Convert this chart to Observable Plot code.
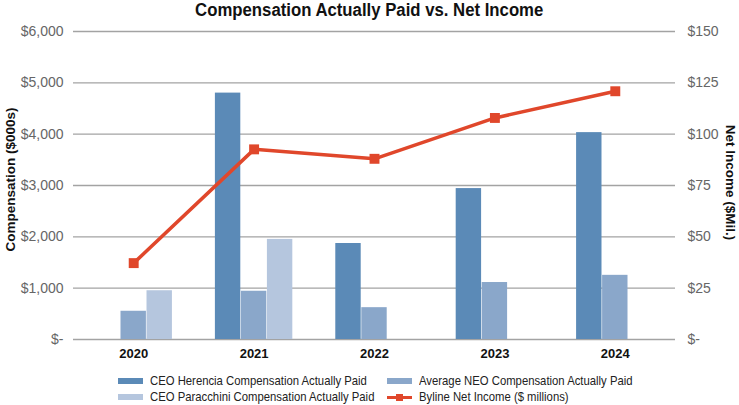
<!DOCTYPE html>
<html><head><meta charset="utf-8">
<script src="https://cdn.jsdelivr.net/npm/d3@7"></script>
<script src="https://cdn.jsdelivr.net/npm/@observablehq/plot@0.6"></script>
<style>
body{margin:0;background:#fff;font-family:"Liberation Sans",Arial,sans-serif;}
#wrap{position:relative;width:739px;height:405px;overflow:hidden;}
#title{position:absolute;left:0;top:0;width:739px;height:22px;line-height:21px;text-align:center;}
#title span{display:inline-block;font-family:"Liberation Sans",Arial,sans-serif;font-weight:bold;font-size:18px;color:#111;transform:scaleX(0.93);transform-origin:center;white-space:nowrap;}
#chart{position:absolute;left:0;top:22px;}
.leg{position:absolute;font-family:"Liberation Sans",Arial,sans-serif;font-size:13px;color:#222;white-space:nowrap;line-height:14px;transform:scaleX(0.87);transform-origin:left center;}
.sw{position:absolute;width:25px;height:6px;}
</style></head><body>
<div id="wrap">
<div id="title"><span>Compensation Actually Paid vs. Net Income</span></div>
<div id="chart"></div>
<div id="legend"></div>
</div>
<script>
const years = [2020, 2021, 2022, 2023, 2024];
const herencia = [null, 4800, 1870, 2940, 4030];
const neo = [550, 940, 620, 1110, 1250];
const paracchini = [950, 1950, null, null, null];
const netIncome = [37.2, 92.6, 88.0, 107.9, 120.9];
const compTicks = [0, 1000, 2000, 3000, 4000, 5000, 6000];
const incomeTicks = [0, 25, 50, 75, 100, 125, 150];
const seriesNames = ["CEO Herencia Compensation Actually Paid", "Average NEO Compensation Actually Paid", "CEO Paracchini Compensation Actually Paid", "Byline Net Income ($ millions)"];
const colors = ["#5b8ab7", "#8aa7ca", "#b5c6de", "#e0472b"];

const ratio = 6000 / 150;
const barW = 0.216;
const seriesVals = [herencia, neo, paracchini];
const bars = [];
seriesVals.forEach((vals, s) => {
  vals.forEach((v, i) => {
    if (v != null) bars.push({year: years[i], s, v, x1: years[i] + (s - 1.5) * barW, x2: years[i] + (s - 0.5) * barW});
  });
});
const line = years.map((y, i) => ({year: y, ni: netIncome[i], yv: netIncome[i] * ratio}));

const fmtComp = d => d === 0 ? "$-" : "$" + d3.format(",")(d);
const fmtInc = d => d === 0 ? "$-" : "$" + d3.format(",")(d / ratio);

const plot = Plot.plot({
  width: 739,
  height: 347,
  marginLeft: 73,
  marginRight: 64,
  marginTop: 9,
  marginBottom: 30,
  style: {fontFamily: "'Liberation Sans', Arial, sans-serif", fontSize: "14px", background: "#fff"},
  x: {domain: [2019.5, 2024.5]},
  y: {domain: [0, 6000]},
  marks: [
    Plot.ruleY(compTicks, {stroke: "#a3a3a3", strokeWidth: 1.3}),
    Plot.rectX(bars, {x1: "x1", x2: "x2", y1: 0, y2: "v", fill: d => colors[d.s], insetLeft: 0.3, insetRight: 0.3}),
    Plot.axisY(compTicks, {anchor: "left", tickSize: 0, tickPadding: 10, tickFormat: fmtComp, label: null, fill: "#666", fontSize: 14}),
    Plot.axisY(compTicks, {anchor: "right", tickSize: 0, tickPadding: 12, tickFormat: fmtInc, label: null, fill: "#666", fontSize: 14}),
    Plot.axisX(years, {anchor: "bottom", tickSize: 0, tickPadding: 9, tickFormat: d => String(d), label: null, fontWeight: "bold", fill: "#111", fontSize: 13}),
    Plot.line(line, {x: "year", y: "yv", stroke: colors[3], strokeWidth: 3.5}),
    Plot.dot(line, {x: "year", y: "yv", symbol: "square", r: 5.6, fill: colors[3], stroke: "none"}),
    Plot.text(["Compensation ($000s)"], {frameAnchor: "left", textAnchor: "middle", rotate: -90, dx: -63, dy: -6, fontWeight: "bold", fontSize: 13.5, fill: "#111"}),
    Plot.text(["Net Income ($Mil.)"], {frameAnchor: "right", textAnchor: "middle", rotate: 90, dx: 55, dy: -3, fontWeight: "bold", fontSize: 13.5, fill: "#111"})
  ]
});
document.getElementById("chart").appendChild(plot);

const legend = document.getElementById("legend");
const legPos = [[118, 381], [387, 381], [118, 397], [387, 397]];
seriesNames.forEach((name, i) => {
  const [x, y] = legPos[i];
  if (i < 3) {
    const sw = document.createElement("div");
    sw.className = "sw";
    sw.style.left = x + "px"; sw.style.top = (y - 3) + "px"; sw.style.background = colors[i];
    legend.appendChild(sw);
  } else {
    const ln = document.createElement("div");
    ln.className = "sw";
    ln.style.left = x + "px"; ln.style.top = (y - 1.5) + "px"; ln.style.height = "3px"; ln.style.background = colors[i];
    legend.appendChild(ln);
    const mk = document.createElement("div");
    mk.className = "sw";
    mk.style.left = (x + 9) + "px"; mk.style.top = (y - 3.5) + "px"; mk.style.width = "7px"; mk.style.height = "7px"; mk.style.background = colors[i];
    legend.appendChild(mk);
  }
  const t = document.createElement("div");
  t.className = "leg";
  t.style.left = (x + 32) + "px"; t.style.top = (y - 7) + "px";
  t.textContent = name;
  legend.appendChild(t);
});
</script>
</body></html>
